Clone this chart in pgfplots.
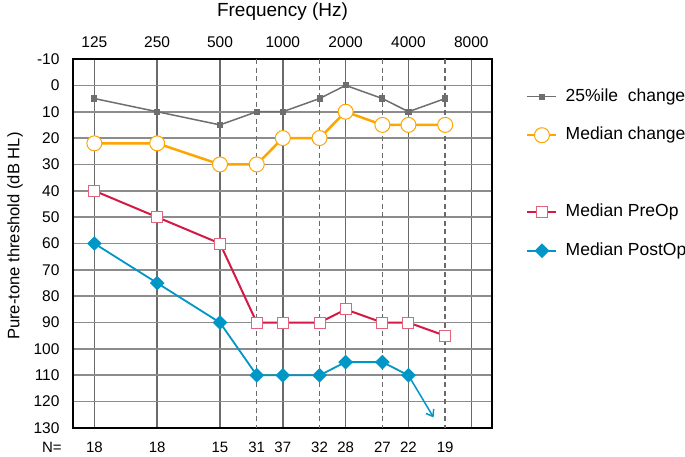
\documentclass[border=0pt]{standalone}
\usepackage{pgfplots}
\pgfplotsset{compat=1.18}
\usepackage{fontspec}
\setmainfont{Liberation Sans}
\usetikzlibrary{arrows.meta}
\definecolor{cgray}{HTML}{6E6E6E}
\definecolor{corange}{HTML}{FFA500}
\definecolor{cred}{HTML}{D41A44}
\definecolor{cpink}{HTML}{E0647E}
\definecolor{cblue}{HTML}{0096C6}
\definecolor{cgrid}{HTML}{8C8C8C}
\definecolor{cvgrid}{HTML}{6A6A6A}
\definecolor{cdash}{HTML}{BDBDBD}
\begin{document}
\begin{tikzpicture}
\useasboundingbox (-73bp,-29bp) rectangle (612bp,428bp);
\begin{axis}[
  at={(0,0)}, anchor=south west,
  scale only axis, width=419bp, height=369bp,
  xmin=-0.34, xmax=6.33, ymin=-10, ymax=130, y dir=reverse,
  axis line style={line width=2.2bp, black},
  xtick={0,1,2,3,4,5,6},
  xticklabels={125,250,500,1000,2000,4000,8000},
  xticklabel pos=upper,
  ytick={-10,0,10,20,30,40,50,60,70,80,90,100,110,120,130},
  yticklabels={-10,0,10,20,30,40,50,60,70,80,90,100,110,120,130},
  major tick length=0pt,
  xmajorgrids, ymajorgrids,
  x grid style={cvgrid, line width=1.5bp},
  y grid style={cgrid, line width=1.6bp},
  extra x ticks={2.585,3.585,4.585,5.585},
  extra x tick labels={},
  extra x tick style={grid=major, major grid style={cdash, line width=0.8bp, dash pattern=on 5bp off 3.5bp}},
  tick label style={font=\fontsize{15.5bp}{18bp}\selectfont},
  yticklabel style={anchor=east, xshift=-10bp},
  xticklabel style={yshift=8bp},
  ylabel={Pure-tone threshold (dB HL)},
  ylabel style={at={(axis description cs:-0.138,0.52)}, anchor=center, font=\fontsize{16.6bp}{19bp}\selectfont},
  clip=false,
  legend cell align=left,
  legend image code/.code={\draw[mark repeat=2,mark phase=2,#1] plot coordinates {(0bp,0bp) (14.5bp,0bp) (29bp,0bp)};},
  legend style={at={(axis description cs:1,1)}, anchor=north west, xshift=34bp, yshift=-28bp,
    draw=none, fill=none, inner sep=0pt, row sep=19.5bp,
    font=\fontsize{17.5bp}{20bp}\selectfont,
    nodes={inner sep=1bp, text height=13bp, text depth=4bp},
    /tikz/every odd column/.append style={column sep=7bp}},
]
\addplot[cgray, line width=1.5bp, mark=square*, mark size=2.3bp, mark options={fill=cgray}]
  coordinates {(0,5) (1,10) (2,15) (2.585,10) (3,10) (3.585,5) (4,0) (4.585,5) (5,10) (5.585,5)};
\addlegendentry{25\%ile\hspace{0.55em}change}
\addplot[corange, line width=2.5bp, mark=*, mark size=7.5bp, mark options={fill=white, line width=1bp}]
  coordinates {(0,22) (1,22) (2,30) (2.585,30) (3,20) (3.585,20) (4,10) (4.585,15) (5,15) (5.585,15)};
\addlegendentry{Median change}
\addlegendimage{empty legend}
\addlegendentry{}
\addplot[cred, line width=2bp, mark=square*, mark size=5.5bp, mark options={fill=white, draw=cpink, line width=1bp}]
  coordinates {(0,40) (1,50) (2,60) (2.585,90) (3,90) (3.585,90) (4,85) (4.585,90) (5,90) (5.585,95)};
\addlegendentry{Median PreOp}
\addplot[cblue, line width=1.8bp, mark=square*, mark size=4.3bp, mark options={fill=cblue, rotate=45}]
  coordinates {(0,60) (1,75) (2,90) (2.585,110) (3,110) (3.585,110) (4,105) (4.585,105) (5,110)};
\addlegendentry{Median PostOp}
\addplot[cblue, line width=1.5bp, -{Straight Barb[length=6bp, width=9bp]}, forget plot]
  coordinates {(5,110) (5.4,126)};
\node[font=\fontsize{19bp}{22bp}\selectfont] at (axis description cs:0.5,1) [yshift=47bp] {Frequency (Hz)};
\foreach \xx/\nn in {0/18,1/18,2/15,2.585/31,3/37,3.585/32,4/28,4.585/27,5/22,5.585/19} {
  \edef\tmp{\noexpand\node[font=\noexpand\fontsize{15bp}{18bp}\noexpand\selectfont] at (axis cs:\xx,130) [yshift=-19bp] {\nn};}
  \tmp
}
\node[font=\fontsize{15bp}{18bp}\selectfont] at (axis cs:-0.676,130) [yshift=-19bp] {N=};
\end{axis}
\end{tikzpicture}
\end{document}
